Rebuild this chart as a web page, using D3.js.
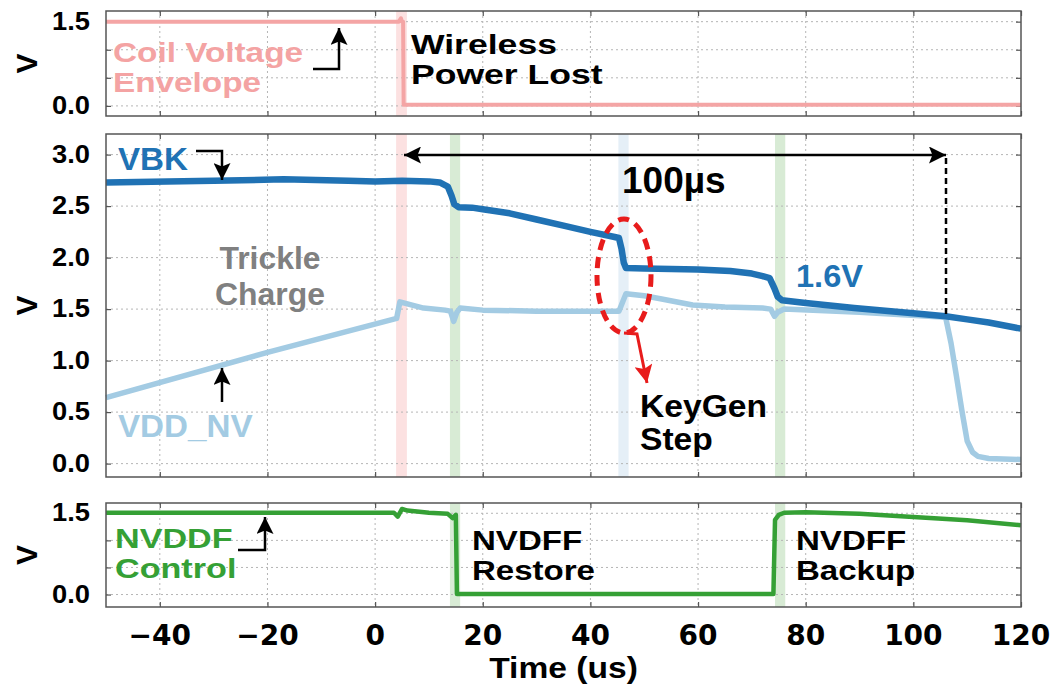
<!DOCTYPE html>
<html>
<head>
<meta charset="utf-8">
<script src="https://cdn.jsdelivr.net/npm/d3@7"></script>
<style>
  html, body { margin: 0; padding: 0; background: #fff; }
  svg { display: block; }
  text { font-family: "Liberation Sans", Arial, sans-serif; font-weight: bold; }
</style>
</head>
<body>
<div id="chart"></div>
<script>
// time axis (us)
const xTicks = [-40, -20, 0, 20, 40, 60, 80, 100, 120];

// coil voltage envelope (top panel)
const coilT = [-50, 4.4, 4.8, 5.0, 5.2, 5.3, 120];
const coilV = [1.5, 1.5, 1.56, 1.5, 1.5, 0.02, 0.02];

// VBK (middle panel)
const vbkT = [-50, -30, -17, -5, 0, 5, 10, 12, 13.5, 14.2, 14.7, 15.5, 18, 20, 25, 30, 35, 40, 44.5, 45.3,
              45.8, 46.2, 46.6, 50, 60, 66, 70, 72, 73.3, 74.2, 74.8, 75.6, 80, 89, 100, 106, 110, 114, 120];
const vbkV = [2.73, 2.745, 2.76, 2.745, 2.74, 2.745, 2.74, 2.73, 2.69, 2.6, 2.52, 2.49, 2.485, 2.47, 2.43, 2.37, 2.31, 2.25, 2.2, 2.19,
              2.08, 1.95, 1.9, 1.895, 1.885, 1.87, 1.845, 1.82, 1.8, 1.7, 1.62, 1.585, 1.56, 1.51, 1.46, 1.43, 1.40, 1.37, 1.31];

// VDD_NV (middle panel)
const vddT = [-50, -20, 4.0, 4.6, 6, 9, 13, 14.0, 14.6, 15.2, 15.8, 20, 30, 45.3, 46.6, 50, 53, 59, 65, 72,
              73.5, 74.2, 74.8, 76, 90, 106, 107, 108, 109, 110, 111, 112, 114, 120];
const vddV = [0.64, 1.08, 1.41, 1.57, 1.55, 1.51, 1.49, 1.48, 1.38, 1.47, 1.51, 1.49, 1.48, 1.48, 1.65, 1.63, 1.6, 1.54, 1.52, 1.51,
              1.5, 1.43, 1.47, 1.5, 1.47, 1.42, 1.17, 0.85, 0.52, 0.22, 0.11, 0.07, 0.05, 0.04];

// NVDDF control (bottom panel)
const ctrlT = [-50, 3.5, 4.2, 5.0, 6, 10, 13.5, 14.4, 15.0, 15.2, 74.0, 74.3, 75.0, 76, 80, 90, 100, 110, 120];
const ctrlV = [1.51, 1.51, 1.44, 1.58, 1.55, 1.51, 1.49, 1.41, 1.47, 0.01, 0.01, 1.38, 1.47, 1.51, 1.52, 1.49, 1.43, 1.37, 1.28];

// highlighted time windows
const bandStart = [3.9, 13.9, 45.2, 74.3];
const bandEnd   = [5.9, 15.8, 47.1, 76.2];
const bandColor = ["#fce1e1", "#d8ebd5", "#e5eff7", "#d8ebd5"];

const width = 1052, height = 688;
const left = 106, right = 1021;

const svg = d3.select("#chart").append("svg")
  .attr("width", width).attr("height", height);

const defs = svg.append("defs");
function marker(id, color, len, wid) {
  defs.append("marker").attr("id", id)
    .attr("viewBox", "0 0 10 10").attr("refX", 10).attr("refY", 5)
    .attr("markerWidth", len).attr("markerHeight", wid)
    .attr("markerUnits", "userSpaceOnUse")
    .attr("orient", "auto-start-reverse")
    .append("path").attr("d", "M0,0 L10,5 L0,10 L2,5 Z").attr("fill", color);
}
marker("arrowK", "#000", 20, 17);
marker("arrowR", "#e81c1c", 20, 18);

const x = d3.scaleLinear().domain([-50, 120]).range([left, right]);

const panels = [
  { name: "top", y: d3.scaleLinear().domain([-0.18, 1.69]).range([116, 11]),
    grid: [0, 0.5, 1, 1.5], labels: [0, 1.5], bands: [0] },
  { name: "mid", y: d3.scaleLinear().domain([-0.13, 3.2]).range([477, 134]),
    grid: [0, 0.5, 1, 1.5, 2, 2.5, 3], labels: [0, 0.5, 1, 1.5, 2, 2.5, 3], bands: [0, 1, 2, 3] },
  { name: "bot", y: d3.scaleLinear().domain([-0.23, 1.69]).range([607, 503]),
    grid: [0, 0.5, 1, 1.5], labels: [0, 1.5], bands: [1, 3] }
];

panels.forEach(p => {
  const g = svg.append("g");
  const [y1, y0] = p.y.range();
  p.g = g;

  // shaded windows
  g.selectAll("rect.band").data(p.bands).enter().append("rect")
    .attr("x", i => x(bandStart[i])).attr("width", i => x(bandEnd[i]) - x(bandStart[i]))
    .attr("y", y0).attr("height", y1 - y0)
    .attr("fill", i => bandColor[i]);

  // dotted grid
  g.selectAll("line.gx").data(xTicks.filter(d => d < 120)).enter().append("line")
    .attr("x1", d => x(d)).attr("x2", d => x(d)).attr("y1", y0).attr("y2", y1)
    .attr("stroke", "#b5b5b5").attr("stroke-width", 1).attr("stroke-dasharray", "2,3");
  g.selectAll("line.gy").data(p.grid).enter().append("line")
    .attr("x1", left).attr("x2", right).attr("y1", d => p.y(d)).attr("y2", d => p.y(d))
    .attr("stroke", "#b5b5b5").attr("stroke-width", 1).attr("stroke-dasharray", "2,3");

  // inner ticks
  g.append("g").attr("transform", `translate(0,${y1})`)
    .call(d3.axisTop(x).tickValues(xTicks).tickSize(5).tickFormat(""))
    .call(a => a.select(".domain").remove());
  g.append("g").attr("transform", `translate(0,${y0})`)
    .call(d3.axisBottom(x).tickValues(xTicks).tickSize(5).tickFormat(""))
    .call(a => a.select(".domain").remove());
  g.append("g").attr("transform", `translate(${left},0)`)
    .call(d3.axisRight(p.y).tickValues(p.grid).tickSize(5).tickFormat(""))
    .call(a => a.select(".domain").remove());
  g.append("g").attr("transform", `translate(${right},0)`)
    .call(d3.axisLeft(p.y).tickValues(p.grid).tickSize(5).tickFormat(""))
    .call(a => a.select(".domain").remove());
  g.selectAll(".tick line").attr("stroke", "#555").attr("stroke-width", 1.2);

  // y tick labels
  g.selectAll("text.yl").data(p.labels).enter().append("text")
    .attr("transform", d => `translate(90,${p.y(d) + 8}) scale(1.05,1)`)
    .attr("text-anchor", "end").style("font-size", "26px").attr("fill", "#000")
    .text(d => d.toFixed(1));

  // y title
  g.append("text")
    .attr("transform", `translate(37,${(y0 + y1) / 2}) rotate(-90)`)
    .attr("text-anchor", "middle").style("font-size", "30px").text("V");
});

const line = y => d3.line().x(d => x(d[0])).y(d => y(d[1]));

function trace(p, T, V, color, w) {
  p.g.append("path").datum(d3.zip(T, V))
    .attr("d", line(p.y))
    .attr("fill", "none").attr("stroke", color).attr("stroke-width", w)
    .attr("stroke-linejoin", "round");
}

trace(panels[0], coilT, coilV, "#f4a5a5", 4);
trace(panels[1], vddT, vddV, "#a3cbe3", 5.5);
trace(panels[1], vbkT, vbkV, "#2072b4", 6.5);
trace(panels[2], ctrlT, ctrlV, "#35a035", 4.5);

// frames
panels.forEach(p => {
  const [y1, y0] = p.y.range();
  p.g.append("rect").attr("x", left).attr("y", y0).attr("width", right - left).attr("height", y1 - y0)
    .attr("fill", "none").attr("stroke", "#555").attr("stroke-width", 1.5);
});

// x tick labels
svg.append("g").attr("transform", "translate(0,645)")
  .selectAll("text").data(xTicks).enter().append("text")
  .attr("x", d => x(d)).attr("text-anchor", "middle")
  .style("font-family", "'DejaVu Sans', Verdana, sans-serif").style("font-size", "28px")
  .text(d => d < 0 ? "\u2212" + Math.abs(d) : d);

svg.append("text")
  .attr("transform", `translate(${(left + right) / 2},678) scale(1.12,1)`)
  .attr("text-anchor", "middle").style("font-size", "30px").text("Time (us)");

// annotations
function label(lines, px, py, color, size, sx, lh, anchor) {
  const t = svg.append("text")
    .attr("transform", `translate(${px},${py}) scale(${sx},1)`)
    .attr("fill", color).style("font-size", size + "px")
    .attr("text-anchor", anchor || "start");
  lines.forEach((s, i) => t.append("tspan").attr("x", 0).attr("dy", i ? lh : 0).text(s));
}

function arrow(d, color, id, w) {
  svg.append("path").attr("d", d).attr("fill", "none")
    .attr("stroke", color).attr("stroke-width", w || 2.5)
    .attr("marker-end", `url(#${id})`);
}

label(["Coil Voltage", "Envelope"], 113, 62, "#f4a3a3", 28, 1.19, 30);
arrow("M313,69 H339 V28", "#000", "arrowK");
label(["Wireless", "Power Lost"], 411, 54, "#000", 28, 1.27, 30);

label(["VBK"], 118, 170, "#2072b4", 31, 1.07, 0);
arrow("M196,151 H222 V180", "#000", "arrowK");
label(["Trickle", "Charge"], 270, 269, "#808080", 31, 1.03, 36, "middle");
label(["VDD_NV"], 118, 437, "#a3cbe3", 31, 1.07, 0);
arrow("M222,402 V368", "#000", "arrowK");

// 100us span
svg.append("path").attr("d", "M404,155 H946").attr("stroke", "#000").attr("stroke-width", 2.5)
  .attr("marker-start", "url(#arrowK)").attr("marker-end", "url(#arrowK)");
svg.append("path").attr("d", "M946,158 V318").attr("stroke", "#000").attr("stroke-width", 2.5)
  .attr("stroke-dasharray", "6,4");
label(["100µs"], 622, 193, "#000", 37, 1.0, 0);
label(["1.6V"], 796, 287, "#2072b4", 31, 1.05, 0);

// keygen highlight
svg.append("ellipse").attr("cx", 624).attr("cy", 276).attr("rx", 27).attr("ry", 57)
  .attr("fill", "none").attr("stroke", "#e81c1c").attr("stroke-width", 5)
  .attr("stroke-dasharray", "11,7");
arrow("M624,333 L637,334 L647,383", "#e81c1c", "arrowR", 3);
label(["KeyGen", "Step"], 640, 417, "#000", 31, 1.085, 33);

label(["NVDDF", "Control"], 115, 548, "#35a035", 28, 1.22, 30);
arrow("M238,550 H265 V517", "#000", "arrowK");
label(["NVDFF", "Restore"], 472, 550, "#000", 28, 1.18, 30);
label(["NVDFF", "Backup"], 796, 550, "#000", 28, 1.18, 30);
</script>
</body>
</html>
